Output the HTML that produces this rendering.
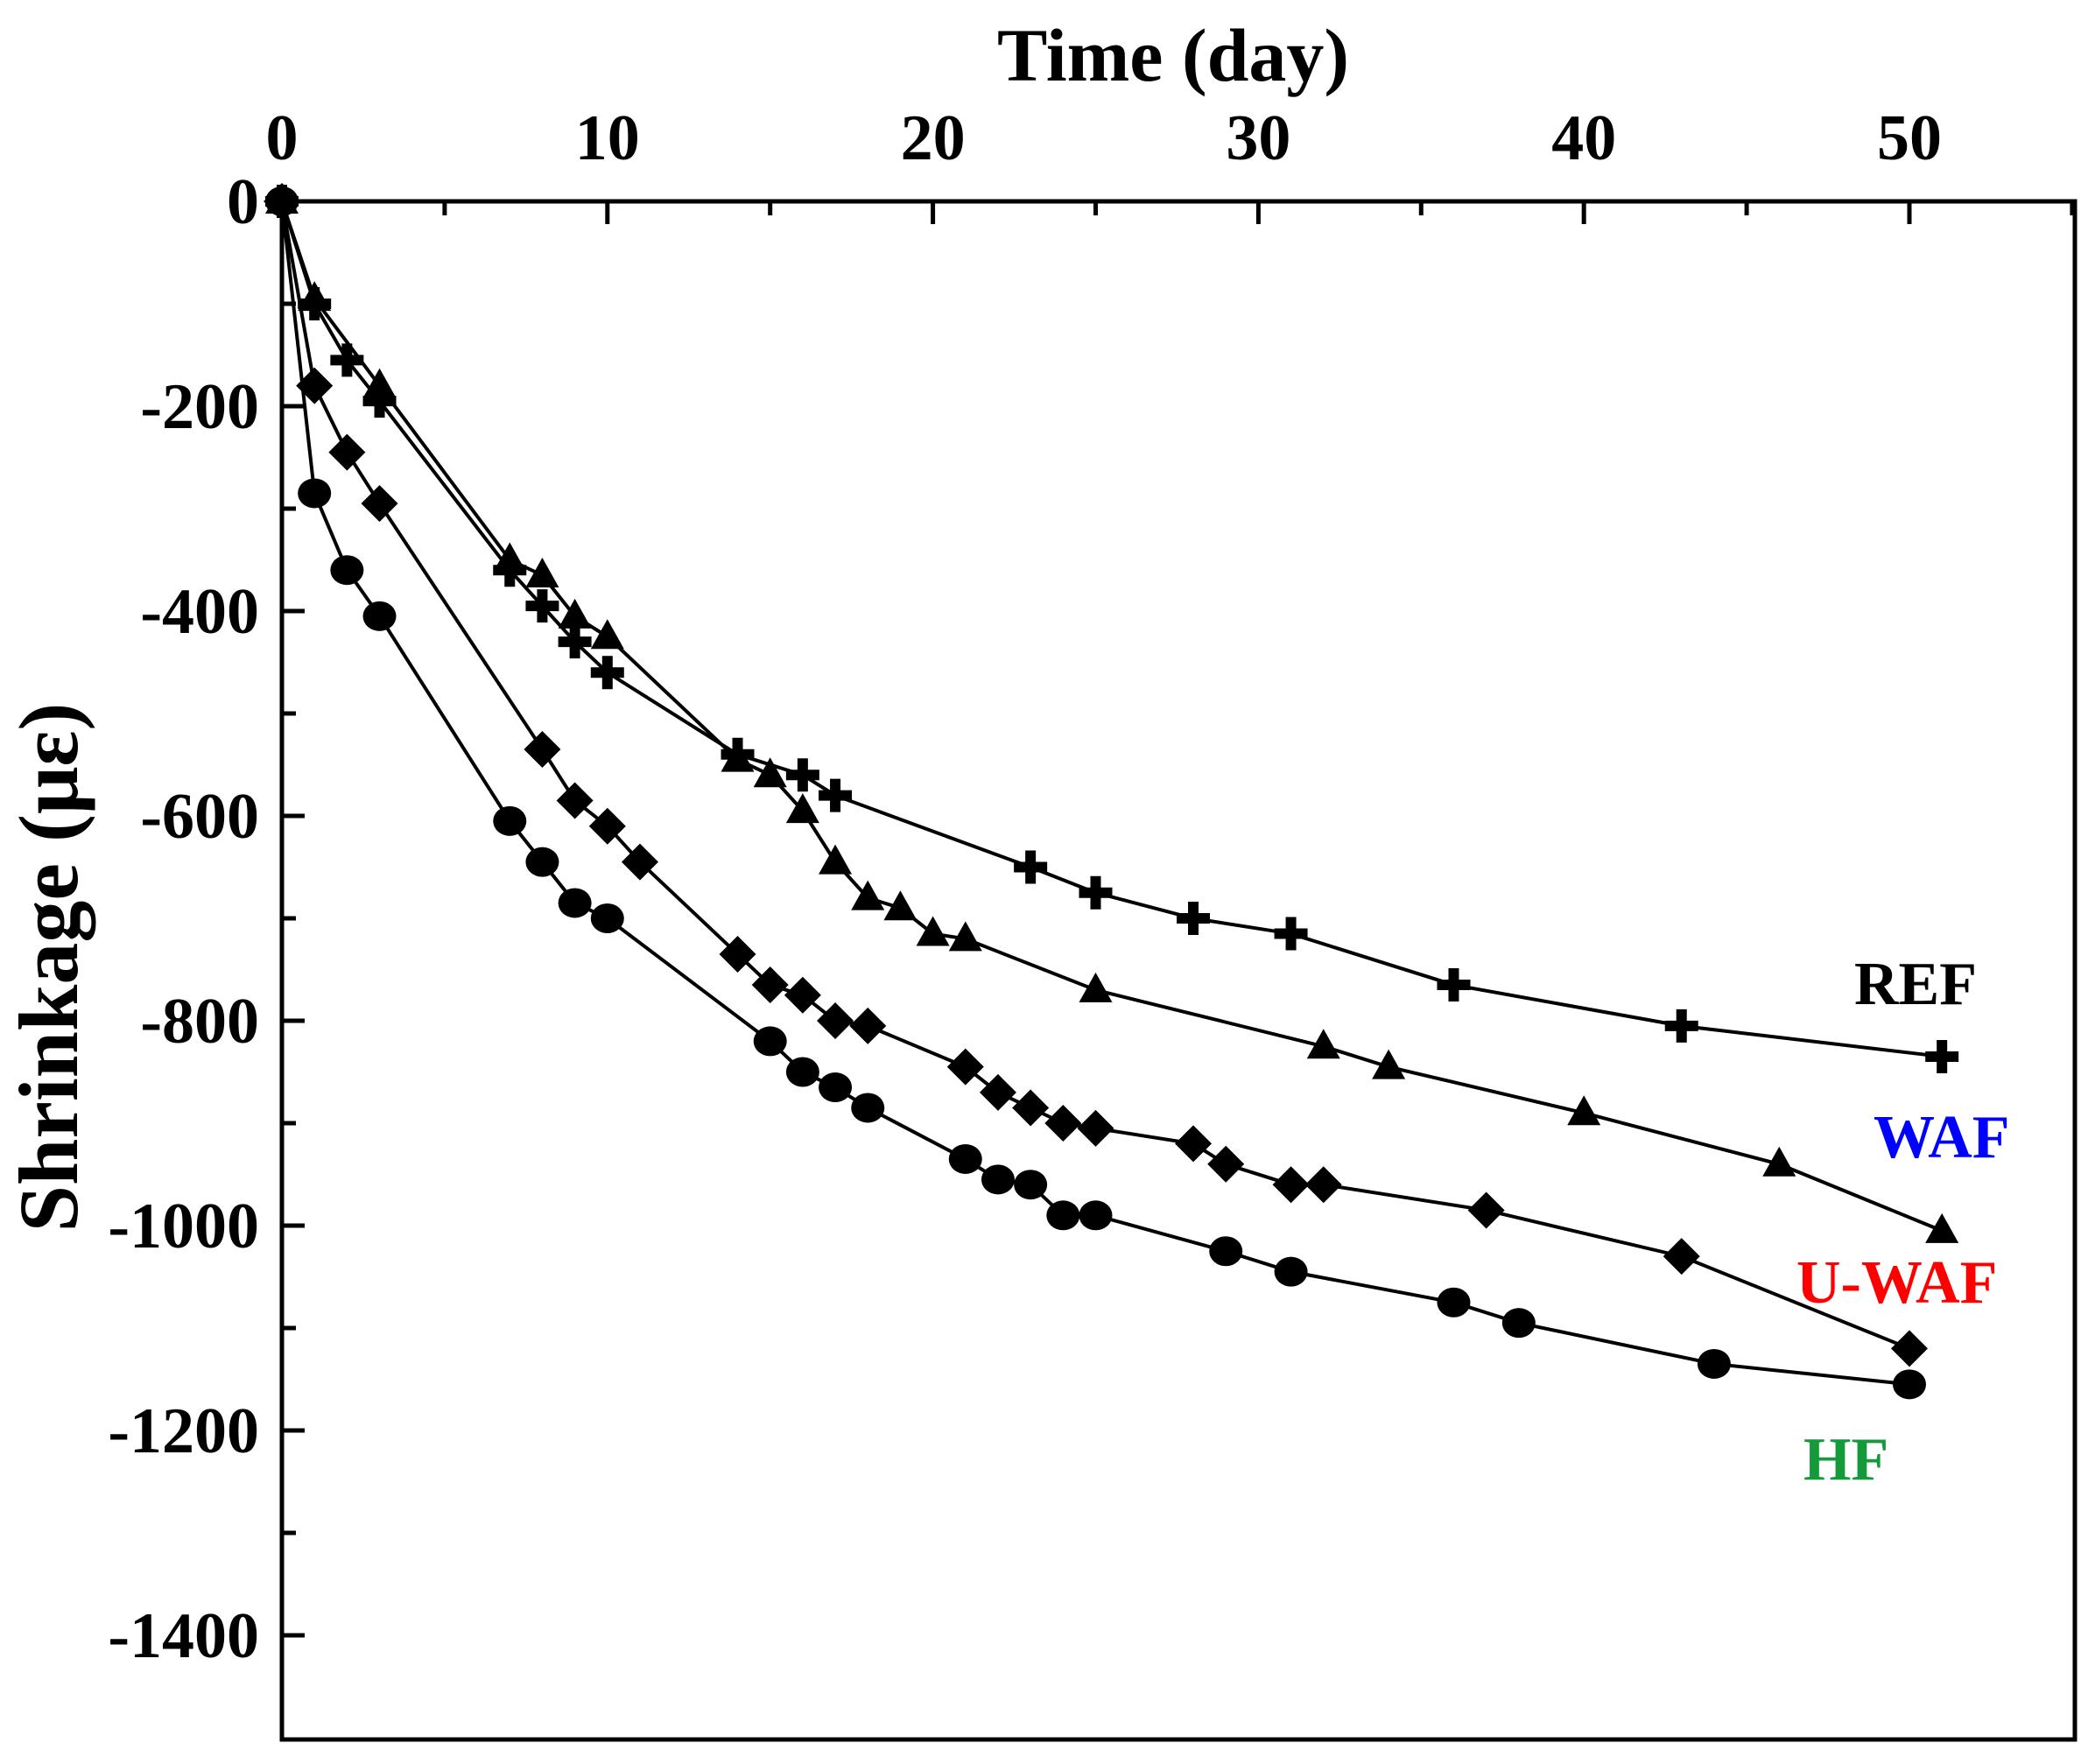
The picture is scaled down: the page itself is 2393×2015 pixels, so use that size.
<!DOCTYPE html>
<html><head><meta charset="utf-8"><style>
html,body{margin:0;padding:0;background:#fff}
svg{display:block}
text{font-family:"Liberation Serif",serif;font-weight:bold}
</style></head><body>
<svg id="chart" width="2393" height="2015" viewBox="0 0 2393 2015" xmlns="http://www.w3.org/2000/svg">
<g id="axes"></g>
<g id="series"></g>
<text x="1340" y="92" font-size="86" text-anchor="middle">Time (day)</text>
<text transform="translate(88,1105) rotate(-90)" font-size="96" text-anchor="middle">Shrinkage (<tspan font-family="'Liberation Serif','DejaVu Serif',serif">με</tspan>)</text>
<text x="2118" y="1147" font-size="70" fill="#000">REF</text>
<text x="2140" y="1322" font-size="70" fill="#0000ff">WAF</text>
<text x="2052" y="1488" font-size="70" fill="#ff0000">U-WAF</text>
<text x="2060" y="1690" font-size="70" fill="#149a3a">HF</text>
</svg>
<script>
const xTicks = [0,10,20,30,40,50];
const yTicks = [0,-200,-400,-600,-800,-1000,-1200,-1400];
const refX = [0,1,2,3,7,8,9,10,14,16,17,23,25,28,31,36,43,51];
const refY = [0,-100,-155,-195,-360,-395,-430,-460,-540,-560,-580,-650,-675,-700,-715,-765,-805,-835];
const wafX = [0,1,3,7,8,9,10,14,15,16,17,18,19,20,21,25,32,34,40,46,51];
const wafY = [0,-95,-180,-350,-365,-405,-425,-545,-560,-595,-645,-680,-690,-715,-720,-770,-825,-845,-890,-940,-1005];
const uwafX = [0,1,2,3,8,9,10,11,14,15,16,17,18,21,22,23,24,25,28,29,31,32,37,43,50];
const uwafY = [0,-180,-245,-295,-535,-585,-610,-645,-735,-765,-775,-800,-805,-845,-870,-885,-900,-905,-920,-940,-960,-960,-985,-1030,-1120];
const hfX = [0,1,2,3,7,8,9,10,15,16,17,18,21,22,23,24,25,29,31,36,38,44,50];
const hfY = [0,-285,-360,-405,-605,-645,-685,-700,-820,-850,-865,-885,-935,-955,-960,-990,-990,-1025,-1045,-1075,-1095,-1135,-1155];

const L=322,R=2370,T=230,B=1987;
function sx(v){return L+v*37.18;}
function sy(v){return T-v*1.170;}
const NS="http://www.w3.org/2000/svg";
function mk(tag,attrs,parent){const e=document.createElementNS(NS,tag);for(const k in attrs)e.setAttribute(k,attrs[k]);parent.appendChild(e);return e;}
const axes=document.getElementById('axes');
const frame=mk('rect',{x:L,y:T,width:R-L,height:B-T,fill:'none',stroke:'#000','stroke-width':5},axes);


for(let d=0;d<=55;d+=5){
  if(sx(d)>R)break;
  const len=d%10===0?26:16;
  const t=mk('line',{x1:sx(d),y1:T,x2:sx(d),y2:T+len,stroke:'#000','stroke-width':5},axes);
  
  
}
xTicks.forEach(v=>{
  const t=mk('text',{x:sx(v),y:182,'font-size':74,'text-anchor':'middle'},axes);
  t.textContent=v;
  
  
});
for(let v=0;v>=-1400;v-=100){
  const len=v%200===0?26:16;
  const t=mk('line',{x1:L,y1:sy(v),x2:L+len,y2:sy(v),stroke:'#000','stroke-width':5},axes);
  
  
}
yTicks.forEach(v=>{
  const t=mk('text',{x:L-26,y:sy(v)+25,'font-size':74,'text-anchor':'end'},axes);
  t.textContent=v;
  
  
});
const ser=document.getElementById('series');
function marker(type,cx,cy,g){
  let e;
  if(type==='plus'){
    e=mk('path',{d:`M${cx-19} ${cy-6}h13v-13h12v13h13v12h-13v13h-12v-13h-13z`,fill:'#000'},g);
  }else if(type==='tri'){
    e=mk('path',{d:`M${cx} ${cy-20}L${cx+19} ${cy+14}L${cx-19} ${cy+14}Z`,fill:'#000'},g);
  }else if(type==='dia'){
    e=mk('path',{d:`M${cx} ${cy-21}L${cx+21} ${cy}L${cx} ${cy+21}L${cx-21} ${cy}Z`,fill:'#000'},g);
  }else{
    e=mk('ellipse',{cx:cx,cy:cy,rx:19,ry:17,fill:'#000'},g);
  }
  return e;
}
function drawSeries(name,xs,ys,type){
  const g=mk('g',{},ser);
  
  
  const pts=xs.map((x,i)=>sx(x)+','+sy(ys[i])).join(' ');
  const pl=mk('polyline',{points:pts,fill:'none',stroke:'#000','stroke-width':4},g);
  
  
  xs.forEach((x,i)=>{
    const m=marker(type,sx(x),sy(ys[i]),g);
    
    
  });
}
drawSeries('ref',refX,refY,'plus');
drawSeries('waf',wafX,wafY,'tri');
drawSeries('u-waf',uwafX,uwafY,'dia');
drawSeries('hf',hfX,hfY,'circ');
</script>
</body></html>
